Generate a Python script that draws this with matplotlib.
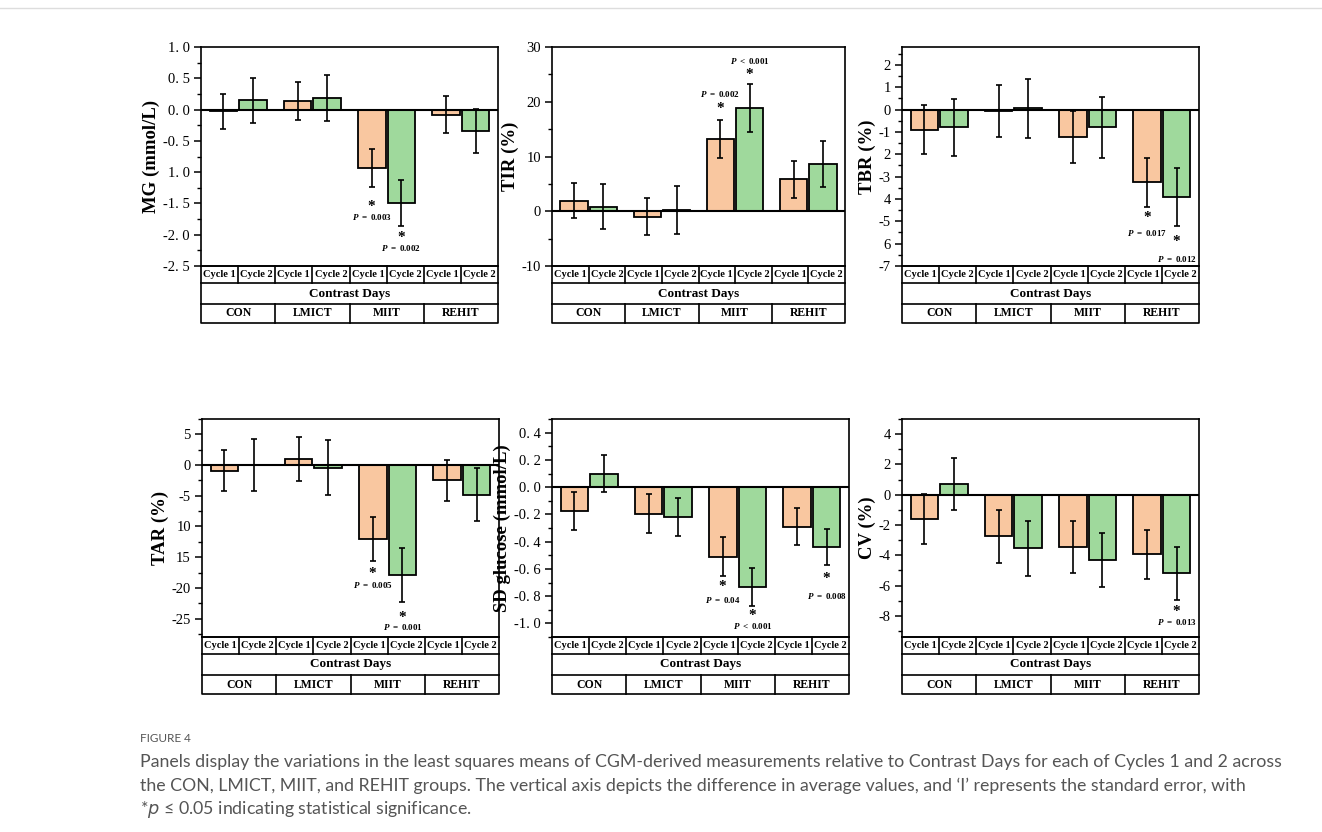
import matplotlib.pyplot as plt
from matplotlib.ticker import FixedLocator, FixedFormatter, MultipleLocator

groups = ['CON', 'LMICT', 'MIIT', 'REHIT']
cycles = ['Cycle 1', 'Cycle 2']

# least squares mean differences and standard errors, per group (CON, LMICT, MIIT, REHIT)
mg_c1 = [-0.03, 0.14, -0.93, -0.08]
mg_c1_se = [0.28, 0.30, 0.30, 0.29]
mg_c2 = [0.15, 0.19, -1.49, -0.34]
mg_c2_se = [0.36, 0.37, 0.37, 0.35]

tir_c1 = [1.9, -1.0, 13.2, 5.8]
tir_c1_se = [3.2, 3.4, 3.5, 3.35]
tir_c2 = [0.8, 0.3, 18.8, 8.6]
tir_c2_se = [4.1, 4.4, 4.4, 4.2]

tbr_c1 = [-0.9, -0.07, -1.22, -3.25]
tbr_c1_se = [1.1, 1.16, 1.16, 1.1]
tbr_c2 = [-0.8, 0.05, -0.8, -3.92]
tbr_c2_se = [1.27, 1.34, 1.35, 1.29]

tar_c1 = [-0.9, 1.0, -12.0, -2.5]
tar_c1_se = [3.3, 3.55, 3.55, 3.3]
tar_c2 = [0.05, -0.4, -17.9, -4.8]
tar_c2_se = [4.25, 4.45, 4.45, 4.25]

sd_c1 = [-0.175, -0.195, -0.51, -0.29]
sd_c1_se = [0.138, 0.145, 0.145, 0.135]
sd_c2 = [0.1, -0.22, -0.73, -0.44]
sd_c2_se = [0.133, 0.14, 0.14, 0.135]

cv_c1 = [-1.6, -2.75, -3.45, -3.95]
cv_c1_se = [1.64, 1.75, 1.73, 1.63]
cv_c2 = [0.7, -3.55, -4.3, -5.2]
cv_c2_se = [1.7, 1.8, 1.78, 1.73]

# y tick values and the labels as printed in the figure
mg_ticks = [1.0, 0.5, 0.0, -0.5, -1.0, -1.5, -2.0, -2.5]
mg_labels = ['1. 0', '0. 5', '0. 0', '-0. 5', '1. 0', '-1. 5', '-2. 0', '-2. 5']
tir_ticks = [30, 20, 10, 0, -10]
tir_labels = ['30', '20', '10', '0', '-10']
tbr_ticks = [2, 1, 0, -1, -2, -3, -4, -5, -6, -7]
tbr_labels = ['2', '1', '0', '-1', '2', '-3', '4', '-5', '6', '-7']
tar_ticks = [5, 0, -5, -10, -15, -20, -25]
tar_labels = ['5', '0', '-5', '10', '15', '-20', '-25']
sd_ticks = [0.4, 0.2, 0.0, -0.2, -0.4, -0.6, -0.8, -1.0]
sd_labels = ['0. 4', '0. 2', '0. 0', '-0. 2', '-0. 4', '-0. 6', '-0. 8', '-1. 0']
cv_ticks = [4, 2, 0, -2, -4, -6, -8]
cv_labels = ['4', '2', '0', '-2', '-4', '-6', '-8']

# significance notes: (group index, cycle, star y, text y, relation, p value)
mg_notes = [(2, 0, -1.50, -1.72, '=', '0.003'), (2, 1, -2.0, -2.22, '=', '0.002')]
tir_notes = [(2, 0, 19.3, 21.5, '=', '0.002'), (2, 1, 25.5, 27.4, '<', '0.001')]
tbr_notes = [(3, 0, -4.7, -5.52, '=', '0.017'), (3, 1, -5.75, -6.67, '=', '0.012')]
tar_notes = [(2, 0, -17.1, -19.5, '=', '0.005'), (2, 1, -24.3, -26.4, '=', '0.001')]
sd_notes = [(2, 0, -0.71, -0.825, '=', '0.04'), (2, 1, -0.92, -1.02, '<', '0.001'),
            (3, 1, -0.645, -0.80, '=', '0.008')]
cv_notes = [(3, 1, -7.5, -8.4, '=', '0.013')]

ORANGE = '#F9C7A0'
GREEN = '#9FD99C'
SERIF = 'Liberation Serif'
W, H = 1322, 832

# custom math font only for the small bold P annotations
plt.rcParams['mathtext.fontset'] = 'custom'
plt.rcParams['mathtext.it'] = 'Liberation Serif:italic:bold'
plt.rcParams['mathtext.rm'] = 'Liberation Serif:bold'


def px_rect(x0, y0, x1, y1):
    return [x0 / W, 1 - y1 / H, (x1 - x0) / W, (y1 - y0) / H]


def draw_panel(fig, box, ylabel, c1, c1_se, c2, c2_se, ylim, ticks, labels, minor, notes):
    x0, y0, x1, y1 = box
    ax = fig.add_axes(px_rect(x0, y0, x1, y1))
    xs = list(range(len(groups)))
    x_c1 = [x - 0.2 for x in xs]
    x_c2 = [x + 0.2 for x in xs]
    ax.bar(x_c1, c1, width=0.37, color=ORANGE, edgecolor='black', linewidth=1.3, zorder=2)
    ax.bar(x_c2, c2, width=0.37, color=GREEN, edgecolor='black', linewidth=1.3, zorder=2)
    ax.errorbar(x_c1, c1, yerr=c1_se, fmt='none', ecolor='black', elinewidth=1.2,
                capsize=2.5, capthick=1.2, zorder=3)
    ax.errorbar(x_c2, c2, yerr=c2_se, fmt='none', ecolor='black', elinewidth=1.2,
                capsize=2.5, capthick=1.2, zorder=3)
    ax.axhline(0, color='black', lw=1.5, zorder=4)
    ax.set_xlim(-0.5, 3.5)
    ax.set_ylim(*ylim)
    ax.set_xticks([])
    ax.yaxis.set_major_locator(FixedLocator(ticks))
    ax.yaxis.set_major_formatter(FixedFormatter(labels))
    ax.yaxis.set_minor_locator(MultipleLocator(minor))
    ax.tick_params(axis='y', which='major', direction='out', length=5, width=1.1,
                   labelsize=10.5, pad=3)
    ax.tick_params(axis='y', which='minor', direction='out', length=3, width=1.0)
    for lab in ax.get_yticklabels():
        lab.set_family(SERIF)
    for sp in ax.spines.values():
        sp.set_linewidth(1.2)
    ax.set_ylabel(ylabel, fontsize=13.5, fontweight='bold', family=SERIF, labelpad=2)

    for g, cyc, ystar, ytext, rel, pval in notes:
        xc = x_c1[g] if cyc == 0 else x_c2[g]
        ax.text(xc, ystar, '$\\mathrm{*}$', ha='center', va='center', fontsize=11,
                math_fontfamily='custom')
        ax.text(xc, ytext, '$\\mathit{P}\\ {' + rel + '}\\ \\mathrm{' + pval + '}$',
                ha='center', va='center', fontsize=6.5, math_fontfamily='custom')

    # category table under the axes
    rows = [17, 21, 19]
    tab = fig.add_axes(px_rect(x0, y1, x1, y1 + sum(rows)))
    tab.set_xlim(-0.5, 3.5)
    tab.set_ylim(sum(rows), 0)
    tab.axis('off')
    lw = 1.2
    r1 = rows[0]
    r2 = rows[0] + rows[1]
    r3 = sum(rows)
    tab.plot([-0.5, -0.5, 3.5, 3.5, -0.5], [0, r3, r3, 0, 0], color='black', lw=lw,
             clip_on=False)
    tab.plot([-0.5, 3.5], [r1, r1], color='black', lw=lw, clip_on=False)
    tab.plot([-0.5, 3.5], [r2, r2], color='black', lw=lw, clip_on=False)
    for i in range(1, 8):
        xv = -0.5 + 0.5 * i
        tab.plot([xv, xv], [0, r1], color='black', lw=lw, clip_on=False)
    for i in range(1, 4):
        xv = -0.5 + i
        tab.plot([xv, xv], [r2, r3], color='black', lw=lw, clip_on=False)
    for g in range(len(groups)):
        for k, c in enumerate(cycles):
            tab.text(g - 0.25 + 0.5 * k, r1 / 2, c, ha='center', va='center',
                     fontsize=7.5, fontweight='semibold', family=SERIF)
        tab.text(g, (r2 + r3) / 2, groups[g], ha='center', va='center',
                 fontsize=8.5, fontweight='bold', family=SERIF)
    tab.text(1.5, (r1 + r2) / 2, 'Contrast Days', ha='center', va='center',
             fontsize=9.5, fontweight='bold', family=SERIF)
    return ax


fig = plt.figure(figsize=(W / 100, H / 100), dpi=100)

draw_panel(fig, (201, 47, 498, 266), 'MG (mmol/L)', mg_c1, mg_c1_se, mg_c2, mg_c2_se,
           (-2.5, 1.0), mg_ticks, mg_labels, 0.25, mg_notes)
draw_panel(fig, (552, 47, 845, 266), 'TIR (%)', tir_c1, tir_c1_se, tir_c2, tir_c2_se,
           (-10, 30), tir_ticks, tir_labels, 5, tir_notes)
draw_panel(fig, (902, 47, 1199, 266), 'TBR (%)', tbr_c1, tbr_c1_se, tbr_c2, tbr_c2_se,
           (-7, 2.8), tbr_ticks, tbr_labels, 0.5, tbr_notes)
draw_panel(fig, (202, 419, 499, 637), 'TAR (%)', tar_c1, tar_c1_se, tar_c2, tar_c2_se,
           (-28, 7.5), tar_ticks, tar_labels, 2.5, tar_notes)
draw_panel(fig, (552, 419, 849, 637), 'SD glucose (mmol/L)', sd_c1, sd_c1_se, sd_c2, sd_c2_se,
           (-1.1, 0.5), sd_ticks, sd_labels, 0.1, sd_notes)
draw_panel(fig, (902, 419, 1199, 637), 'CV (%)', cv_c1, cv_c1_se, cv_c2, cv_c2_se,
           (-9.4, 5.0), cv_ticks, cv_labels, 1, cv_notes)

# page rule and caption
fig.add_artist(plt.Line2D([0, 1], [1 - 8 / H, 1 - 8 / H], color='#DDDDDD', lw=1))
fig.text(140 / W, 1 - 739 / H, 'FIGURE 4', fontsize=8.5, color='#555555', family='Lato',
         va='center')
caption = [
    'Panels display the variations in the least squares means of CGM-derived measurements '
    'relative to Contrast Days for each of Cycles 1 and 2 across',
    'the CON, LMICT, MIIT, and REHIT groups. The vertical axis depicts the difference in '
    'average values, and \u2018I\u2019 represents the standard error, with',
    '*$p$ \u2264 0.05 indicating statistical significance.',
]
for i, line in enumerate(caption):
    fig.text(140 / W, 1 - (762 + 23.5 * i) / H, line, fontsize=12.8, color='#555555',
             family='Lato', va='center', math_fontfamily='dejavusans')

fig.savefig('out.png', dpi=100)
